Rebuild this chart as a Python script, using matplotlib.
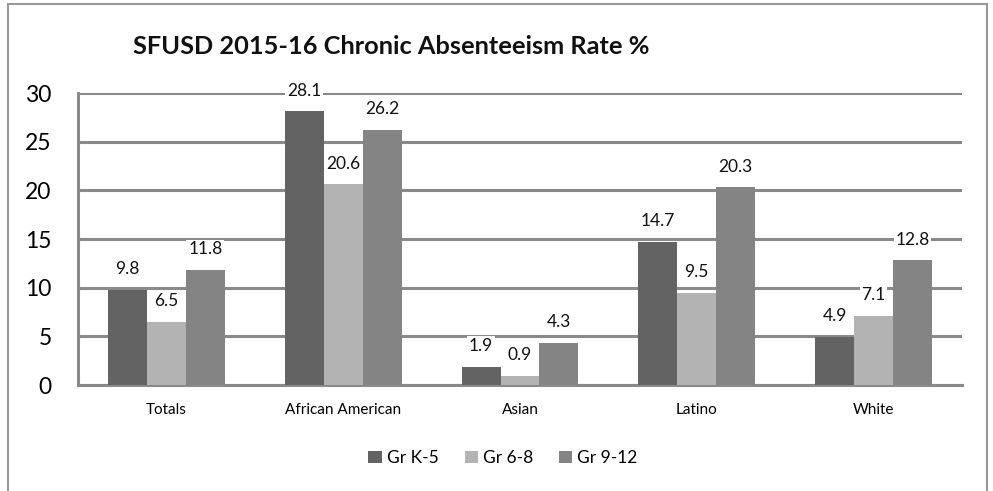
import numpy as np
import matplotlib
matplotlib.use("Agg")
import matplotlib.pyplot as plt
from matplotlib.patches import Rectangle

plt.rcParams['font.family'] = ['Lato', 'DejaVu Sans']

categories = ["Totals", "African American", "Asian", "Latino", "White"]
series_names = ["Gr K-5", "Gr 6-8", "Gr 9-12"]
gr_k5 = [9.8, 28.1, 1.9, 14.7, 4.9]
gr_6_8 = [6.5, 20.6, 0.9, 9.5, 7.1]
gr_9_12 = [11.8, 26.2, 4.3, 20.3, 12.8]
y_ticks = [0, 5, 10, 15, 20, 25, 30]
title = "SFUSD 2015-16 Chronic Absenteeism Rate %"

colors = ["#636363", "#b3b3b3", "#848484"]
grid_color = "#8a8a8a"

W, H = 993, 491
fig = plt.figure(figsize=(W / 100, H / 100), dpi=100)

# outer chart frame
fig.patches.append(Rectangle((8 / W, -0.05), 979 / W, 1.05 - 4 / H,
                             transform=fig.transFigure, fill=False,
                             edgecolor="#9a9a9a", linewidth=1.5))

ax = fig.add_axes([78 / W, (H - 385) / H, (962 - 78) / W, (385 - 93) / H])

x = np.arange(len(categories))
width = 0.22
series = [gr_k5, gr_6_8, gr_9_12]
for i, (vals, name, col) in enumerate(zip(series, series_names, colors)):
    pos = x + (i - 1) * width
    ax.bar(pos, vals, width=width, color=col, label=name, zorder=3)
    for px, v in zip(pos, vals):
        ax.annotate(f"{v:.1f}", (px, v), xytext=(0, 15), textcoords="offset points",
                    ha="center", va="center", fontsize=12.5, color="#111111",
                    bbox=dict(boxstyle="square,pad=0.1", fc="white", ec="none"),
                    zorder=4, annotation_clip=False)

ax.set_xlim(-0.5, len(categories) - 0.5)
ax.set_ylim(0, 30)
ax.set_yticks(y_ticks)
ax.set_yticklabels([str(t) for t in y_ticks], fontsize=16.5)
ax.set_xticks(x)
ax.set_xticklabels(categories, fontsize=11)
ax.tick_params(axis="y", length=0, pad=19)
ax.tick_params(axis="x", length=0, pad=13)

ax.yaxis.grid(True, color=grid_color, linewidth=2.2, zorder=1)
ax.set_axisbelow(True)
for s in ["top", "right"]:
    ax.spines[s].set_visible(False)
for s in ["left", "bottom"]:
    ax.spines[s].set_color(grid_color)
    ax.spines[s].set_linewidth(2.2)
    ax.spines[s].set_zorder(2)

fig.text(391 / W, 1 - 47 / H, title, ha="center", va="center",
         fontsize=18.3, fontweight="bold", color="#111111")

fig.legend(loc="center", bbox_to_anchor=(503 / W, 1 - 458 / H), ncol=3,
           frameon=False, fontsize=12.5, handlelength=0.75, handleheight=0.75,
           handletextpad=0.3, columnspacing=1.5)

fig.savefig("out.png", dpi=100)
